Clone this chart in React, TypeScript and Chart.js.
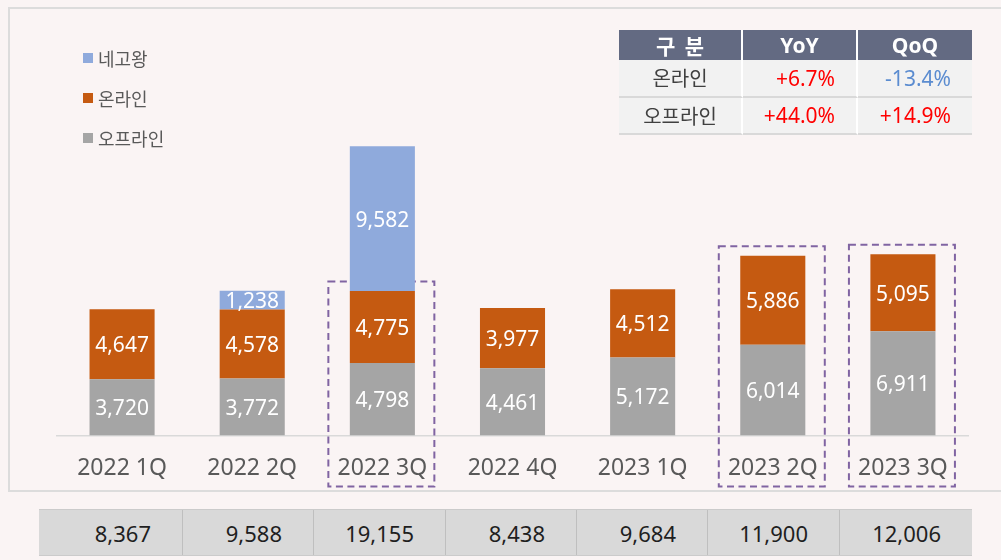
import React, { useEffect, useRef } from "react";
import { Chart, registerables } from "chart.js";

Chart.register(...registerables);

const CATEGORIES = ["2022 1Q", "2022 2Q", "2022 3Q", "2022 4Q", "2023 1Q", "2023 2Q", "2023 3Q"];
const OFFLINE = [3720, 3772, 4798, 4461, 5172, 6014, 6911];
const ONLINE = [4647, 4578, 4775, 3977, 4512, 5886, 5095];
const NEGO = [null, 1238, 9582, null, null, null, null];
const TOTALS = [8367, 9588, 19155, 8438, 9684, 11900, 12006];
const HIGHLIGHTED = ["2022 3Q", "2023 2Q", "2023 3Q"];

const SERIES_NAMES = { nego: "네고왕", online: "온라인", offline: "오프라인" };
const COLORS = { nego: "#8faadc", online: "#c55a11", offline: "#a5a5a5" };

const TABLE_HEAD = ["구  분", "YoY", "QoQ"];
const TABLE_ROWS = [
  ["온라인", "+6.7%", "-13.4%"],
  ["오프라인", "+44.0%", "+14.9%"],
];

const BG = "#faf4f4";
const NUM_FONT = "'Noto Sans', 'Open Sans', sans-serif";
const KR_FONT = "'Noto Sans CJK KR', 'Noto Sans', sans-serif";

const fmt = (v: number) => v.toLocaleString("en-US");

const labelPlugin = {
  id: "segLabels",
  afterDatasetsDraw(chart: any) {
    const ctx = chart.ctx;
    ctx.save();
    ctx.fillStyle = "#ffffff";
    ctx.font = `21px ${NUM_FONT}`;
    ctx.textAlign = "center";
    ctx.textBaseline = "middle";
    chart.data.datasets.forEach((ds: any, i: number) => {
      const meta = chart.getDatasetMeta(i);
      meta.data.forEach((bar: any, j: number) => {
        const v = ds.data[j];
        if (v === null || v === undefined || v === 0) return;
        const p = bar.getProps(["x", "y", "base"], true);
        ctx.fillText(fmt(v), p.x, (p.y + p.base) / 2 + 2);
      });
    });
    ctx.restore();
  },
};

const boxPlugin = {
  id: "highlightBoxes",
  beforeDatasetsDraw(chart: any) {
    const ctx = chart.ctx;
    const xs = chart.scales.x;
    const onlineMeta = chart.getDatasetMeta(1);
    ctx.save();
    ctx.strokeStyle = "#8064a2";
    ctx.lineWidth = 2;
    ctx.setLineDash([7, 4.5]);
    HIGHLIGHTED.forEach((lab) => {
      const idx = CATEGORIES.indexOf(lab);
      if (idx < 0) return;
      const cx = xs.getPixelForValue(idx) - 1;
      const top = onlineMeta.data[idx].y - 9.5;
      const bottom = chart.chartArea.bottom + 51;
      ctx.strokeRect(cx - 53, top, 106, bottom - top);
    });
    ctx.restore();
  },
};

export default function App() {
  const ref = useRef<HTMLCanvasElement | null>(null);

  useEffect(() => {
    document.body.style.margin = "0";
    document.body.style.background = BG;
    if (!ref.current) return;
    const chart = new Chart(ref.current, {
      type: "bar",
      data: {
        labels: CATEGORIES,
        datasets: [
          { label: SERIES_NAMES.offline, data: OFFLINE, backgroundColor: COLORS.offline },
          { label: SERIES_NAMES.online, data: ONLINE, backgroundColor: COLORS.online },
          { label: SERIES_NAMES.nego, data: NEGO as any, backgroundColor: COLORS.nego },
        ],
      },
      options: {
        responsive: false,
        animation: false,
        layout: { padding: { left: 57, right: 33, top: 133.5, bottom: 0 } },
        datasets: { bar: { categoryPercentage: 1, barPercentage: 0.5 } } as any,
        scales: {
          x: {
            stacked: true,
            grid: { display: false, drawTicks: false },
            border: { display: true, color: "#d9d9d9", width: 1.5 },
            ticks: { color: "#595959", font: { family: NUM_FONT, size: 23 }, padding: 19, maxRotation: 0 },
            afterFit: (s: any) => {
              s.height = 124.5;
            },
          },
          y: { stacked: true, display: false, min: 0, max: 20000 },
        },
        plugins: { legend: { display: false }, tooltip: { enabled: false } },
      },
      plugins: [boxPlugin, labelPlugin],
    });
    return () => chart.destroy();
  }, []);

  const legendItems = [
    { name: SERIES_NAMES.nego, color: COLORS.nego },
    { name: SERIES_NAMES.online, color: COLORS.online },
    { name: SERIES_NAMES.offline, color: COLORS.offline },
  ];
  const legendY = [58, 97.5, 137.5];

  const bottomCols = [144, 131, 132, 131, 131, 132, 132];

  return (
    <div style={{ position: "fixed", left: 0, top: 0, width: 1001, height: 560, background: BG, overflow: "hidden" }}>
      <div
        style={{
          position: "absolute",
          left: 8,
          top: 7,
          width: 1010,
          height: 485,
          boxSizing: "border-box",
          border: "2px solid #dcdcdc",
        }}
      />
      <canvas ref={ref} width={1001} height={560} style={{ position: "absolute", left: 0, top: 0 }} />

      {legendItems.map((it, i) => (
        <div
          key={it.name}
          style={{
            position: "absolute",
            left: 83,
            top: legendY[i] - 12,
            height: 24,
            display: "flex",
            alignItems: "center",
            fontFamily: KR_FONT,
            fontSize: 18,
            color: "#595959",
            whiteSpace: "nowrap",
          }}
        >
          <span style={{ display: "inline-block", width: 10, height: 10, background: it.color, marginRight: 5 }} />
          <span>{it.name}</span>
        </div>
      ))}

      <div
        style={{
          position: "absolute",
          left: 619,
          top: 30,
          display: "grid",
          gridTemplateColumns: "124px 115px 114px",
          gridTemplateRows: "30px 37.5px 37px",
        }}
      >
        {TABLE_HEAD.map((h, c) => (
          <div
            key={"h" + c}
            style={{
              background: "#636a82",
              color: "#ffffff",
              fontWeight: "bold",
              fontFamily: c === 0 ? KR_FONT : NUM_FONT,
              fontSize: 21,
              display: "flex",
              alignItems: "center",
              justifyContent: "center",
              boxSizing: "border-box",
              borderRight: c < 2 ? "2px solid #ffffff" : "none",
              whiteSpace: "pre",
            }}
          >
            {h}
          </div>
        ))}
        {TABLE_ROWS.map((row, r) =>
          row.map((cell, c) => (
            <div
              key={r + "-" + c}
              style={{
                background: "#f2f2f2",
                boxSizing: "border-box",
                borderRight: c < 2 ? "2px solid #ffffff" : "none",
                borderBottom: "2px solid #d9d9d9",
                display: "flex",
                alignItems: "center",
                justifyContent: c === 0 ? "center" : "flex-end",
                paddingRight: c === 0 ? 0 : 21,
                fontFamily: c === 0 ? KR_FONT : NUM_FONT,
                fontSize: c === 0 ? 20 : 21,
                color: c === 0 ? "#404040" : cell.startsWith("-") ? "#5b8cd0" : "#ff0000",
                whiteSpace: "nowrap",
              }}
            >
              {cell}
            </div>
          ))
        )}
      </div>

      <div
        style={{
          position: "absolute",
          left: 39,
          top: 509,
          height: 47,
          display: "flex",
          background: "#d9d9d9",
          boxSizing: "border-box",
          borderTop: "1px solid #cbcbcb",
          borderBottom: "1px solid #cbcbcb",
        }}
      >
        {TOTALS.map((t, i) => (
          <div
            key={i}
            style={{
              width: bottomCols[i],
              boxSizing: "border-box",
              borderRight: i < TOTALS.length - 1 ? "1.5px solid #bfbfbf" : "none",
              display: "flex",
              alignItems: "center",
              justifyContent: "flex-end",
              paddingRight: 31,
              fontFamily: NUM_FONT,
              fontSize: 22,
              color: "#1f1f1f",
            }}
          >
            {fmt(t)}
          </div>
        ))}
      </div>
    </div>
  );
}
